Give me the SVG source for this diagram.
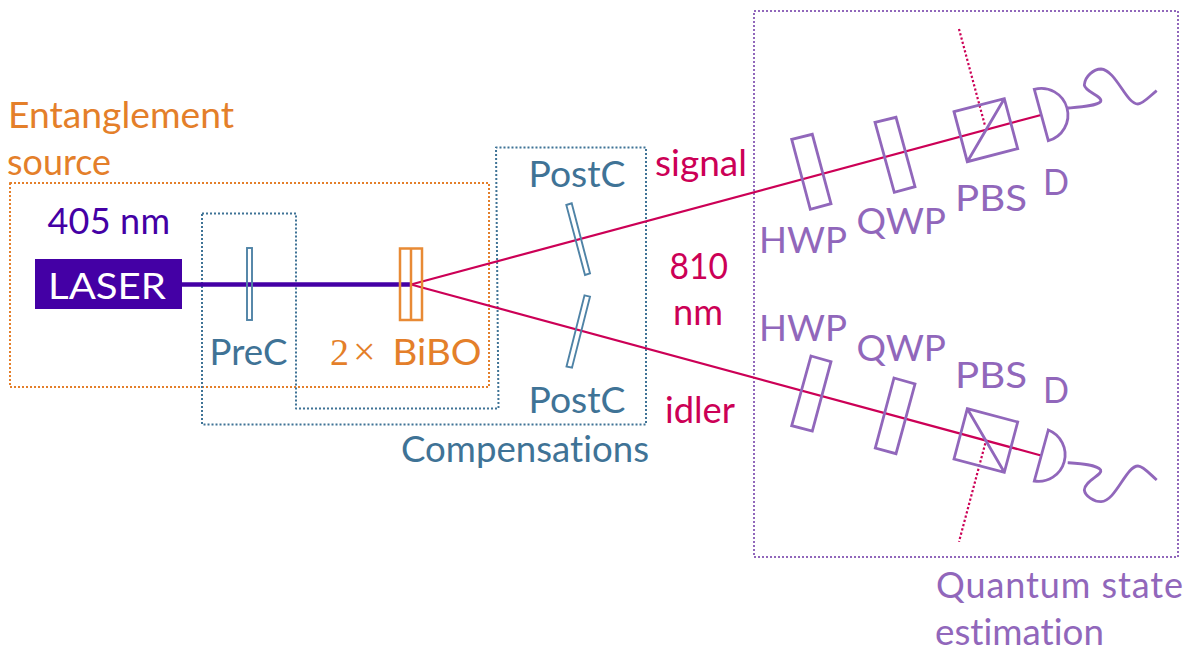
<svg xmlns="http://www.w3.org/2000/svg" width="1184" height="647" viewBox="0 0 1184 647">
<style>
text{font-family:"Lato","Noto Sans","Liberation Sans",sans-serif;font-size:36px;font-variant-ligatures:none}
.o{fill:#e47f2a}.b{fill:#3f7396}.p{fill:#9167bb}.r{fill:#cc0056}.v{fill:#4400a5}
.box{fill:none;stroke-width:2;stroke-dasharray:2 2;stroke-linejoin:round}
.beam{fill:none;stroke:#cc0056;stroke-width:2.200}
.dot{fill:none;stroke:#cc0056;stroke-width:2.200;stroke-dasharray:2.200 2.200}
.pc{fill:none;stroke:#9167bb;stroke-width:2.800;stroke-linejoin:miter}
.bc{fill:none;stroke:#4f83a6;stroke-width:1.900}
.oc{fill:none;stroke:#e88a35;stroke-width:2.500}
.m{font-family:"Liberation Serif",serif}
</style>
<rect width="1184" height="647" fill="#fff"/>
<g id="frames">
<rect id="frame-source" class="box" x="10" y="183" width="479" height="204" stroke="#e47f2a"/>
<path id="frame-compensations" class="box" d="M202 213.500H296V408.500H498.500L496 147.500H646V424.500H202Z" stroke="#3f7396"/>
<rect id="frame-qse" class="box" x="754" y="11" width="424" height="546" stroke="#9167bb"/>
</g>
<g id="connectors">
<path id="pump" d="M182 284.500H411" fill="none" stroke="#4400a5" stroke-width="4.400"/>
<path id="signal-beam" class="beam" d="M411 284.500L1041 115"/>
<path id="idler-beam" class="beam" d="M411 284.500L1041 455.500"/>
<path id="signal-reject" class="dot" d="M959 29L985.300 126.700"/>
<path id="idler-reject" class="dot" d="M985.300 443.300L959 541.700"/>
</g>
<g id="laser"><rect x="35" y="259" width="147" height="50" fill="#4400a5"/><text x="48" y="299" fill="#fff" textLength="118" lengthAdjust="spacingAndGlyphs">LASER</text></g>
<g id="prec"><rect class="bc" x="247" y="248" width="5" height="72"/><text class="b" x="209.500" y="365" textLength="78" lengthAdjust="spacingAndGlyphs">PreC</text></g>
<g id="bibo"><rect class="oc" x="400" y="248.500" width="22" height="71.500"/><path class="oc" d="M411 248.500V320"/><text class="o m" x="330" y="364.500" style="font-size:38px">2</text><text class="o m" x="353" y="364.500" style="font-size:40px">×</text><text class="o" x="392.500" y="365" textLength="89" lengthAdjust="spacingAndGlyphs">BiBO</text></g>
<g id="postc-top"><path class="bc" d="M566.300 205L571.700 203.300L590 273.300L585 275Z"/><text class="b" x="528.500" y="186.500" textLength="97" lengthAdjust="spacingAndGlyphs">PostC</text></g>
<g id="postc-bottom"><path class="bc" d="M584.500 295.300L590 296.700L572 367.700L566.500 366.500Z"/><text class="b" x="528.500" y="412.500" textLength="97" lengthAdjust="spacingAndGlyphs">PostC</text></g>
<g id="hwp-top"><path class="pc" d="M791.700 139.300L812.300 134.300L831 203.700L810.300 209.300Z"/><text class="p" x="759" y="253" textLength="88" lengthAdjust="spacingAndGlyphs">HWP</text></g>
<g id="qwp-top"><path class="pc" d="M875 122.300L896 117.300L915 186.700L894.300 192.300Z"/><text class="p" x="856.500" y="234" textLength="89.500" lengthAdjust="spacingAndGlyphs">QWP</text></g>
<g id="pbs-top"><path class="pc" d="M954 111.700L1004.300 98.700L1017.700 148.700L967.300 161.700ZM1004.300 98.700L967.300 161.700"/><text class="p" x="955" y="211" textLength="72" lengthAdjust="spacingAndGlyphs">PBS</text></g>
<g id="det-top"><path class="pc" d="M1048.300 140.700L1034.300 89.300A26.600 26.600 0 0 1 1048.300 140.700Z"/><path class="pc" d="M1067.700 108C1080 107 1097 106 1100.700 101.500C1103 96 1085 92 1084.300 85C1085 76 1094 69 1101 69C1116 70 1126 104 1138 104C1143 104 1150 96 1156.700 90.700"/><text class="p" x="1043" y="195" textLength="26" lengthAdjust="spacingAndGlyphs">D</text></g>
<g id="hwp-bottom"><path class="pc" d="M811 356L831 361.700L812.300 431L791.700 425.700Z"/><text class="p" x="759" y="341" textLength="88" lengthAdjust="spacingAndGlyphs">HWP</text></g>
<g id="qwp-bottom"><path class="pc" d="M894 378L915 384L896 453.700L875.300 448Z"/><text class="p" x="856.500" y="361" textLength="89.500" lengthAdjust="spacingAndGlyphs">QWP</text></g>
<g id="pbs-bottom"><path class="pc" d="M967.300 408.700L1017.700 422L1004.300 472.300L954 459ZM967.300 408.700L1004.300 472.300"/><text class="p" x="955" y="388" textLength="72" lengthAdjust="spacingAndGlyphs">PBS</text></g>
<g id="det-bottom"><path class="pc" d="M1048.300 430L1034.300 481A26.600 26.600 0 0 0 1048.300 430Z"/><path class="pc" d="M1067.700 462.700C1080 463.500 1097 464.500 1100.700 470C1103 475 1085 480 1084.300 490C1085 496 1094 501.700 1101 501.700C1116 501 1126 466 1138 466C1143 466 1150 474 1156.700 480"/><text class="p" x="1043" y="403" textLength="26" lengthAdjust="spacingAndGlyphs">D</text></g>
<g id="labels">
<text class="o" x="8" y="128" textLength="226" lengthAdjust="spacingAndGlyphs">Entanglement</text>
<text class="o" x="7" y="174.500" textLength="104" lengthAdjust="spacingAndGlyphs">source</text>
<text class="v" x="47.500" y="234" textLength="122.500" lengthAdjust="spacing">405 nm</text>
<text class="b" x="401" y="462" textLength="248" lengthAdjust="spacingAndGlyphs">Compensations</text>
<text class="r" x="655" y="176" textLength="92" lengthAdjust="spacingAndGlyphs">signal</text>
<text class="r" x="669.500" y="279" textLength="58.500" lengthAdjust="spacingAndGlyphs">810</text>
<text class="r" x="673" y="324.500" textLength="50" lengthAdjust="spacingAndGlyphs">nm</text>
<text class="r" x="665" y="423" textLength="70" lengthAdjust="spacingAndGlyphs">idler</text>
<text class="p" x="936" y="598" textLength="247" lengthAdjust="spacing">Quantum state</text>
<text class="p" x="935" y="644.500" textLength="169" lengthAdjust="spacingAndGlyphs">estimation</text>
</g>
</svg>
